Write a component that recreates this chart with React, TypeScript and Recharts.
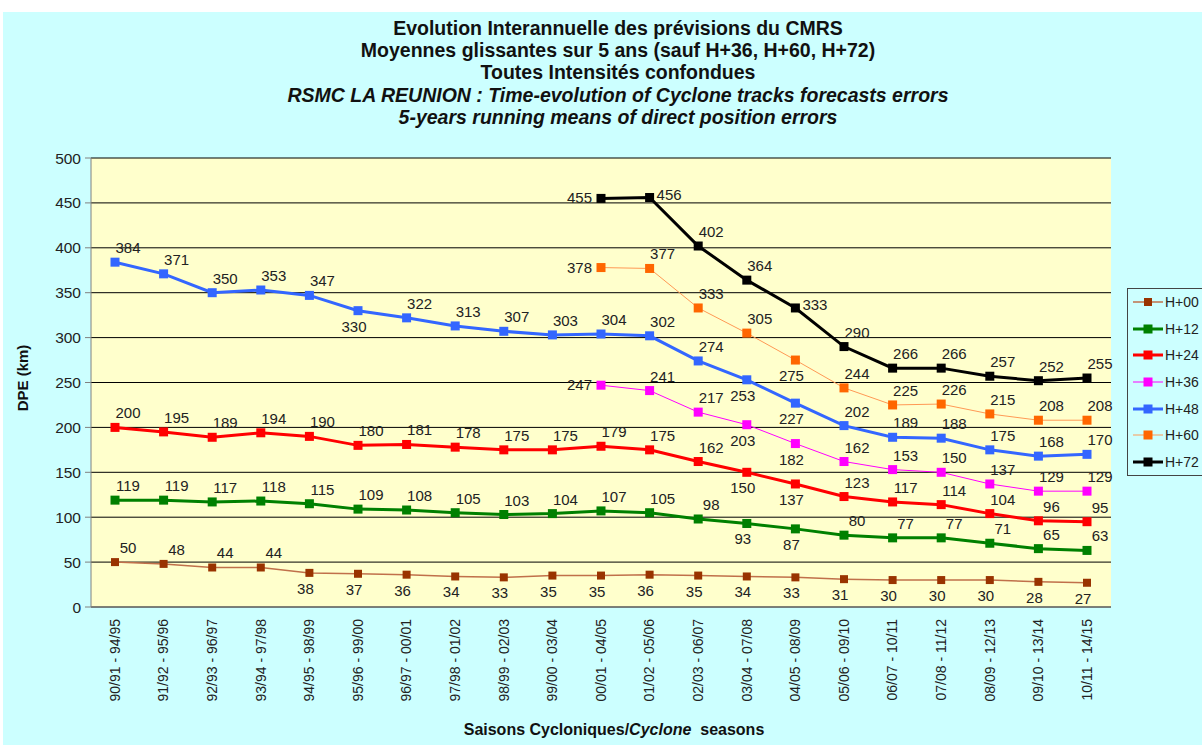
import React from "react";
import { LineChart, Line, XAxis, YAxis, CartesianGrid, LabelList } from "recharts";

const seasons = [
  "90/91 - 94/95", "91/92 - 95/96", "92/93 - 96/97", "93/94 - 97/98", "94/95 - 98/99",
  "95/96 - 99/00", "96/97 - 00/01", "97/98 - 01/02", "98/99 - 02/03", "99/00 - 03/04",
  "00/01 - 04/05", "01/02 - 05/06", "02/03 - 06/07", "03/04 - 07/08", "04/05 - 08/09",
  "05/06 - 09/10", "06/07 - 10/11", "07/08 - 11/12", "08/09 - 12/13", "09/10 - 13/14",
  "10/11 - 14/15",
];

const h00 = [50, 48, 44, 44, 38, 37, 36, 34, 33, 35, 35, 36, 35, 34, 33, 31, 30, 30, 30, 28, 27];
const h12 = [119, 119, 117, 118, 115, 109, 108, 105, 103, 104, 107, 105, 98, 93, 87, 80, 77, 77, 71, 65, 63];
const h24 = [200, 195, 189, 194, 190, 180, 181, 178, 175, 175, 179, 175, 162, 150, 137, 123, 117, 114, 104, 96, 95];
const h36 = [null, null, null, null, null, null, null, null, null, null, 247, 241, 217, 203, 182, 162, 153, 150, 137, 129, 129];
const h48 = [384, 371, 350, 353, 347, 330, 322, 313, 307, 303, 304, 302, 274, 253, 227, 202, 189, 188, 175, 168, 170];
const h60 = [null, null, null, null, null, null, null, null, null, null, 378, 377, 333, 305, 275, 244, 225, 226, 215, 208, 208];
const h72 = [null, null, null, null, null, null, null, null, null, null, 455, 456, 402, 364, 333, 290, 266, 266, 257, 252, 255];

const yTicks = [0, 50, 100, 150, 200, 250, 300, 350, 400, 450, 500];
const bandTicks = Array.from({ length: seasons.length + 1 }, (_, i) => i);

const data = seasons.map((s, i) => ({
  season: s,
  h00: h00[i],
  h12: h12[i],
  h24: h24[i],
  h36: h36[i],
  h48: h48[i],
  h60: h60[i],
  h72: h72[i],
}));

const series = [
  { key: "h00", name: "H+00", color: "#993300", line: "#c0704a", width: 1.5, size: 8 },
  { key: "h12", name: "H+12", color: "#008000", line: "#008000", width: 3, size: 9 },
  { key: "h24", name: "H+24", color: "#ff0000", line: "#ff0000", width: 3, size: 9 },
  { key: "h36", name: "H+36", color: "#ff00ff", line: "#ff00ff", width: 1, size: 9 },
  { key: "h48", name: "H+48", color: "#3366ff", line: "#3366ff", width: 3, size: 9 },
  { key: "h60", name: "H+60", color: "#ff6600", line: "#ff9955", width: 1, size: 9 },
  { key: "h72", name: "H+72", color: "#000000", line: "#000000", width: 3, size: 9 },
];

// where each value label sits, when not above-right of its point
const labelSpots: Record<string, Record<number, string>> = {
  h00: { 4: "b", 5: "b", 6: "b", 7: "b", 8: "b", 9: "b", 10: "b", 11: "b", 12: "b", 13: "b", 14: "b", 15: "b", 16: "b", 17: "b", 18: "b", 19: "b", 20: "b" },
  h12: { 13: "b", 14: "b" },
  h24: { 13: "b", 14: "b" },
  h36: { 10: "l", 13: "b", 14: "b" },
  h48: { 5: "b", 13: "b", 14: "b" },
  h60: { 10: "l", 14: "b" },
  h72: { 10: "l", 11: "r", 14: "r" },
};

const font = "'Liberation Sans', Arial, sans-serif";

const Square = (props: any) => {
  const { cx, cy, fill, size } = props;
  if (cx == null || cy == null) return null;
  return <rect x={cx - size / 2} y={cy - size / 2} width={size} height={size} fill={fill} />;
};

const makeLabel = (key: string) => (props: any) => {
  const { x, y, value, index } = props;
  if (value == null || x == null) return null;
  const spot = labelSpots[key][index] || "ar";
  let tx = x + 13;
  let ty = y - 9;
  let anchor: "start" | "middle" | "end" = "middle";
  if (spot === "b") {
    tx = x - 4;
    ty = y + 21;
  } else if (spot === "l") {
    tx = x - 9;
    ty = y + 5;
    anchor = "end";
  } else if (spot === "r") {
    tx = x + 7;
    ty = y + 2;
    anchor = "start";
  }
  return (
    <text x={tx} y={ty} textAnchor={anchor} fontSize={15} fill="#222" fontFamily={font}>
      {value}
    </text>
  );
};

const SeasonTick = (props: any) => {
  const { x, y, payload } = props;
  return (
    <text
      x={x}
      y={y + 4}
      transform={`rotate(-90, ${x}, ${y + 4})`}
      textAnchor="end"
      dy="0.35em"
      fontSize={14}
      fill="#222"
      fontFamily={font}
    >
      {payload.value}
    </text>
  );
};

const LegendBox = () => (
  <div
    style={{
      position: "absolute",
      left: 1127,
      top: 288,
      border: "1px solid #444",
      width: 100,
      height: 188,
      boxSizing: "border-box",
      fontFamily: font,
      fontSize: 14,
      color: "#222",
    }}
  >
    {series.map((s) => (
      <div key={s.key} style={{ height: 26.6, display: "flex", alignItems: "center" }}>
        <svg width={37} height={14}>
          <line x1={5} y1={7} x2={35} y2={7} stroke={s.line} strokeWidth={s.width} />
          <rect x={20 - s.size / 2} y={7 - s.size / 2} width={s.size} height={s.size} fill={s.color} />
        </svg>
        <span>{s.name}</span>
      </div>
    ))}
  </div>
);

const titleLine: React.CSSProperties = {
  position: "absolute",
  left: 0,
  width: 1236,
  textAlign: "center",
  fontFamily: font,
  fontWeight: "bold",
  fontSize: 19.5,
  lineHeight: "22px",
  color: "#111",
  whiteSpace: "nowrap",
};

export default function App() {
  return (
    <div
      style={{
        position: "absolute",
        left: 0,
        top: 0,
        width: 1202,
        height: 745,
        overflow: "hidden",
        background: "#ffffff",
      }}
    >
      <div style={{ position: "absolute", left: 3, top: 12, right: 0, bottom: 0, background: "#ccffff" }} />
      <div style={{ ...titleLine, top: 17 }}>Evolution Interannuelle des prévisions du CMRS</div>
      <div style={{ ...titleLine, top: 39 }}>Moyennes glissantes sur 5 ans (sauf H+36, H+60, H+72)</div>
      <div style={{ ...titleLine, top: 61 }}>Toutes Intensités confondues</div>
      <div style={{ ...titleLine, top: 84, fontStyle: "italic" }}>
        RSMC LA REUNION : Time-evolution of Cyclone tracks forecasts errors
      </div>
      <div style={{ ...titleLine, top: 106, fontStyle: "italic" }}>5-years running means of direct position errors</div>
      <div style={{ position: "absolute", left: 0, top: 0 }}>
        <LineChart width={1202} height={745} data={data} margin={{ top: 158, right: 91, bottom: 38, left: 31 }}>
          <CartesianGrid vertical={false} horizontal stroke="#000" strokeWidth={1} fill="#ffffcc" />
          <XAxis
            xAxisId="band"
            type="number"
            domain={[0, seasons.length]}
            ticks={bandTicks}
            tick={false}
            tickLine={{ stroke: "#808080" }}
            tickSize={6}
            axisLine={false}
            height={0}
          />
          <XAxis
            dataKey="season"
            interval={0}
            tick={<SeasonTick />}
            tickLine={false}
            axisLine={{ stroke: "#808080" }}
            padding={{ left: 24, right: 24 }}
            height={100}
          />
          <YAxis
            domain={[0, 500]}
            ticks={yTicks}
            width={60}
            tick={{ fontSize: 15.5, fill: "#222", fontFamily: font }}
            tickLine={{ stroke: "#808080" }}
            axisLine={{ stroke: "#808080" }}
            tickMargin={4}
          />
          {series.map((s) => (
            <Line
              key={s.key}
              dataKey={s.key}
              name={s.name}
              stroke={s.line}
              strokeWidth={s.width}
              dot={<Square fill={s.color} size={s.size} />}
              activeDot={false}
              isAnimationActive={false}
            >
              <LabelList dataKey={s.key} content={makeLabel(s.key)} />
            </Line>
          ))}
        </LineChart>
      </div>
      <LegendBox />
      <div
        style={{
          position: "absolute",
          left: 22,
          top: 378,
          transform: "translate(-50%, -50%) rotate(-90deg)",
          fontFamily: font,
          fontWeight: "bold",
          fontSize: 15,
          color: "#111",
          whiteSpace: "nowrap",
        }}
      >
        DPE (km)
      </div>
      <div
        style={{
          position: "absolute",
          left: 0,
          width: 1228,
          top: 721,
          textAlign: "center",
          fontFamily: font,
          fontWeight: "bold",
          fontSize: 16,
          color: "#111",
        }}
      >
        Saisons Cycloniques/<i>Cyclone</i>&nbsp; seasons
      </div>
    </div>
  );
}
